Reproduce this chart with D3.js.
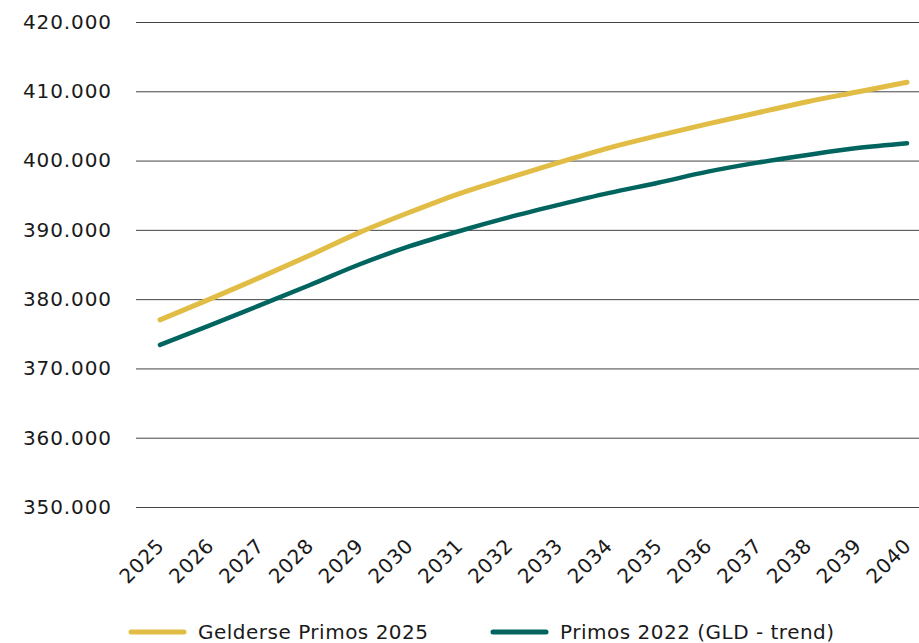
<!DOCTYPE html>
<html><head><meta charset="utf-8">
<script src="https://cdn.jsdelivr.net/npm/d3@7"></script>
<style>
html,body{margin:0;padding:0;background:#fff;}
svg text{font-family:"DejaVu Sans",sans-serif;fill:#1a1a1a;}
</style></head>
<body><svg id="c" width="919" height="643"></svg>
<script>
const years = ["2025","2026","2027","2028","2029","2030","2031","2032","2033","2034","2035","2036","2037","2038","2039","2040"];
const gelderse2025 = [377000,380000,383100,386300,389600,392500,395200,397500,399700,401800,403600,405300,406900,408500,409900,411300];
const primos2022 = [373400,376200,379100,382000,385000,387600,389800,391800,393600,395300,396800,398400,399700,400800,401800,402500];
const yTicks = [350000,360000,370000,380000,390000,400000,410000,420000];
const seriesNames = ["Gelderse Primos 2025","Primos 2022 (GLD - trend)"];
const colors = ["#E2BD45","#00655F"];

const svg = d3.select("#c");
const x = d3.scalePoint().domain(years).range([160,907]);
const y = d3.scaleLinear().domain([350000,420000]).range([507,22]);
const fmt = v => d3.format(",")(v).replace(/,/g,".");

const yAxis = d3.axisLeft(y).tickValues(yTicks).tickSize(-(919-136)).tickFormat(fmt).tickPadding(24);
const gy = svg.append("g").attr("transform","translate(136,0)").call(yAxis);
gy.select(".domain").remove();
gy.selectAll(".tick line").attr("stroke","#444").attr("stroke-width",1);
gy.selectAll(".tick text").attr("font-size","20px").attr("letter-spacing","0.9px").attr("fill","#1a1a1a");

const xAxis = d3.axisBottom(x).tickSize(0).tickPadding(0);
const gx = svg.append("g").attr("transform","translate(0,507)").call(xAxis);
gx.select(".domain").remove();
gx.selectAll(".tick text")
  .attr("font-size","20px").attr("letter-spacing","0.6px").attr("fill","#1a1a1a")
  .attr("text-anchor","end").attr("dy",0)
  .attr("transform","translate(5,40) rotate(-45)");

const data = [gelderse2025, primos2022];
const line = d3.line().x((d,i)=>x(years[i])).y(d=>y(d)).curve(d3.curveMonotoneX);
data.forEach((s,k)=>{
  svg.append("path").attr("d",line(s)).attr("fill","none")
    .attr("stroke",colors[k]).attr("stroke-width",k===0?5:4.5).attr("stroke-linecap","round");
});

const legX = [131,493];
seriesNames.forEach((n,k)=>{
  const g = svg.append("g").attr("transform",`translate(${legX[k]},632)`);
  g.append("line").attr("x1",0).attr("x2",53).attr("stroke",colors[k]).attr("stroke-width",5).attr("stroke-linecap","round");
  g.append("text").attr("x",67).attr("y",7).attr("font-size","20px").attr("letter-spacing","0.5px").text(n);
});
</script></body></html>
